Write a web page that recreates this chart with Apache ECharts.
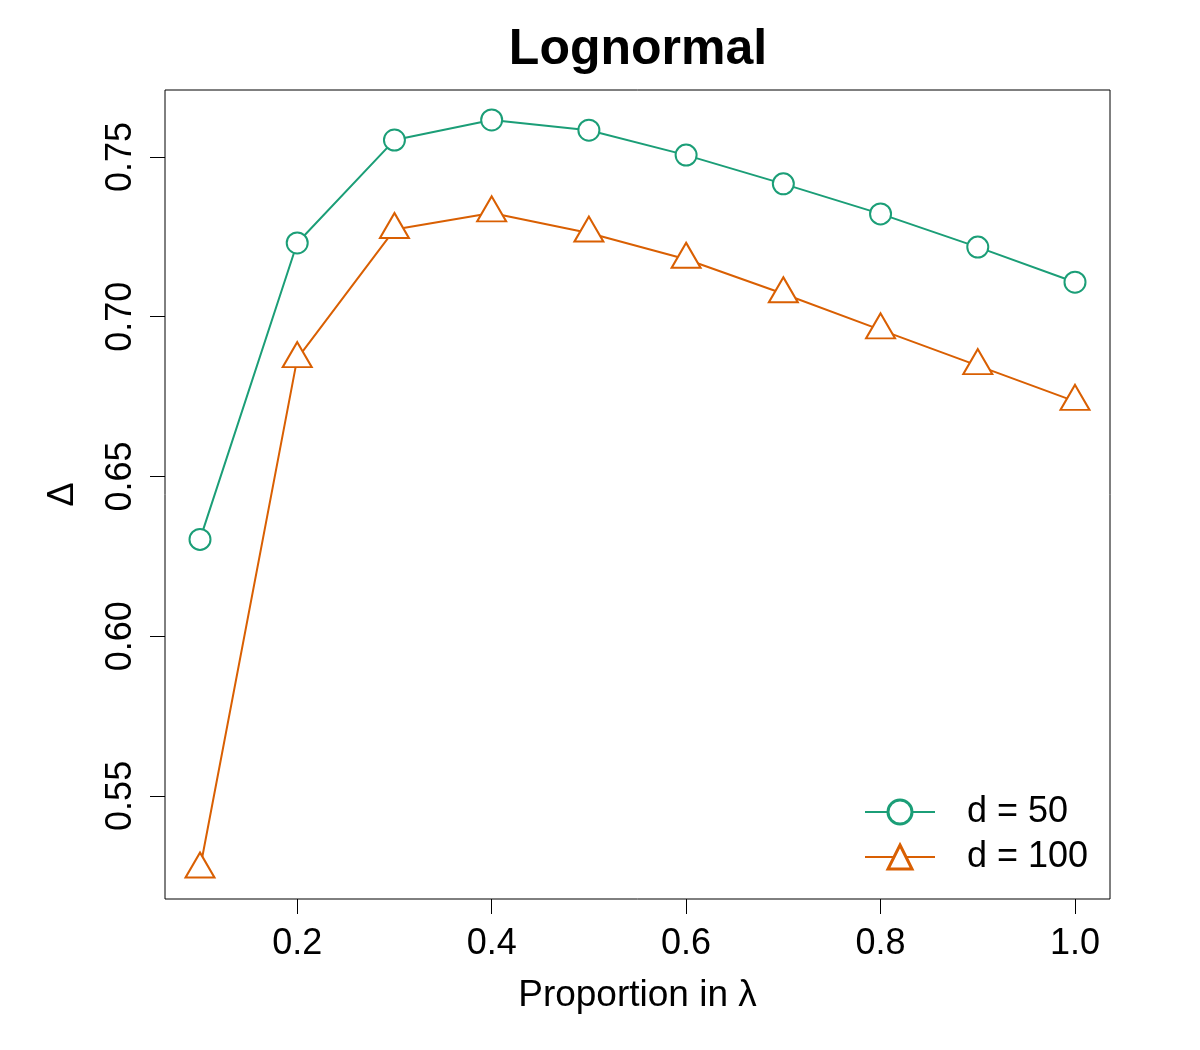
<!DOCTYPE html>
<html>
<head>
<meta charset="utf-8">
<script src="https://cdn.jsdelivr.net/npm/echarts@6/dist/echarts.min.js"></script>
<style>
  html, body { margin: 0; padding: 0; background: #fff; }
  #chart { width: 1200px; height: 1050px; }
</style>
</head>
<body>
<div id="chart"></div>
<script>
// proportion in lambda
const proportions = [0.1, 0.2, 0.3, 0.4, 0.5, 0.6, 0.7, 0.8, 0.9, 1.0];
const d50 = [0.6303, 0.7231, 0.7553, 0.7616, 0.7584, 0.7506, 0.7416, 0.7322, 0.7218, 0.7108];
const d100 = [0.5271, 0.6869, 0.7273, 0.7325, 0.7262, 0.7180, 0.7072, 0.6959, 0.6847, 0.6735];
const xTicks = [0.2, 0.4, 0.6, 0.8, 1.0];
const yTicks = [0.55, 0.60, 0.65, 0.70, 0.75];

const green = "#1B9E77";
const orange = "#D95F02";
const font = "Liberation Sans, Arial, Helvetica, sans-serif";

// R style axis padding: 4% of the data range on each side
function pad(vals) {
  const lo = Math.min(...vals), hi = Math.max(...vals);
  const r = hi - lo;
  return [lo - 0.04 * r, hi + 0.04 * r];
}
const [xMin, xMax] = pad(proportions);
const [yMin, yMax] = pad(d50.concat(d100));

const chart = echarts.init(document.getElementById("chart"));

chart.setOption({
  animation: false,
  textStyle: { fontFamily: font, color: "#000" },
  title: {
    text: "Lognormal",
    left: 633,
    top: 20,
    textAlign: "center",
    textStyle: { fontFamily: font, fontSize: 50, fontWeight: "bold", color: "#000" },
  },
  grid: {
    left: 165, right: 90, top: 90, bottom: 151,
    show: true,
    borderColor: "#000",
    borderWidth: 1,
  },
  legend: {
    orient: "vertical",
    left: 859,
    top: 789,
    itemWidth: 70,
    itemHeight: 30,
    itemGap: 9,
    itemStyle: { borderWidth: 3 },
    textStyle: { fontFamily: font, fontSize: 36, color: "#000", lineHeight: 36, padding: [0, 0, 0, 27] },
    data: ["d = 50", "d = 100"],
  },
  xAxis: {
    type: "value",
    min: xMin,
    max: xMax,
    name: "Proportion in λ",
    nameLocation: "middle",
    nameGap: 78,
    nameTextStyle: { fontFamily: font, fontSize: 37, color: "#000" },
    axisLine: { show: false },
    splitLine: { show: false },
    axisTick: { show: true, length: 15, customValues: xTicks, lineStyle: { color: "#000", width: 1 } },
    axisLabel: {
      customValues: xTicks,
      margin: 27,
      fontSize: 36,
      color: "#000",
      fontFamily: font,
      formatter: (v) => v.toFixed(1),
    },
  },
  yAxis: {
    type: "value",
    min: yMin,
    max: yMax,
    name: "Δ",
    nameLocation: "middle",
    nameGap: 84,
    nameRotate: 90,
    nameTextStyle: { fontFamily: font, fontSize: 36, color: "#000" },
    axisLine: { show: false },
    splitLine: { show: false },
    axisTick: { show: true, length: 15, customValues: yTicks, lineStyle: { color: "#000", width: 1 } },
    axisLabel: {
      customValues: yTicks,
      rotate: 90,
      margin: 26,
      fontSize: 36,
      color: "#000",
      fontFamily: font,
      formatter: (v) => v.toFixed(2),
    },
  },
  series: [
    {
      name: "d = 50",
      type: "line",
      data: proportions.map((x, i) => [x, d50[i]]),
      symbol: "circle",
      symbolSize: 21,
      lineStyle: { color: green, width: 2 },
      itemStyle: { color: "#fff", borderColor: green, borderWidth: 2 },
      z: 3,
    },
    {
      name: "d = 100",
      type: "line",
      data: proportions.map((x, i) => [x, d100[i]]),
      symbol: "triangle",
      symbolSize: [29, 25],
      symbolOffset: [0, -4],
      lineStyle: { color: orange, width: 2 },
      itemStyle: { color: "#fff", borderColor: orange, borderWidth: 2 },
      z: 2,
    },
  ],
});
</script>
</body>
</html>
